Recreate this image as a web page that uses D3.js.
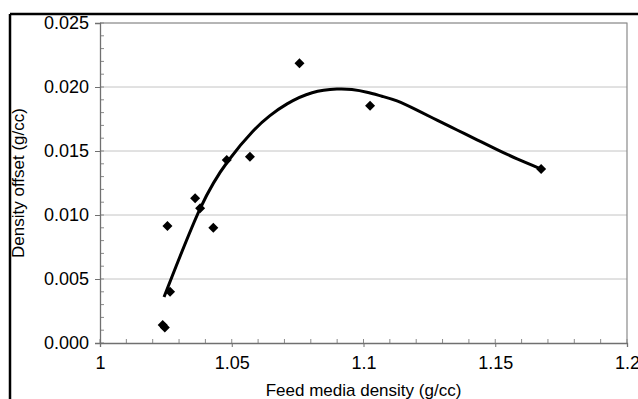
<!DOCTYPE html>
<html>
<head>
<meta charset="utf-8">
<script src="https://cdn.jsdelivr.net/npm/d3@7"></script>
<style>
  html, body { margin: 0; padding: 0; background: #ffffff; }
  svg { display: block; }
</style>
</head>
<body>
<div id="chart"></div>
<script>
// measured points (feed density, density offset)
const feedDensity = [1.0238, 1.0246, 1.0256, 1.0266, 1.0361, 1.0380, 1.0430, 1.0481, 1.0569, 1.0757, 1.1025, 1.1674]
const densityOffset = [0.00140, 0.00122, 0.00914, 0.00400, 0.01130, 0.01052, 0.00900, 0.01430, 0.01456, 0.02185, 0.01854, 0.01359]

// fitted trend line
const fitX = [1.0243, 1.0380, 1.0486, 1.0581, 1.0645, 1.0710, 1.0805, 1.0899, 1.0956, 1.1013, 1.1070, 1.1127, 1.1203, 1.1279, 1.1355, 1.1431, 1.1507, 1.1583, 1.1670]
const fitY = [0.00359, 0.01050, 0.01422, 0.01656, 0.01776, 0.01868, 0.01955, 0.01984, 0.01980, 0.01959, 0.01928, 0.01891, 0.01819, 0.01741, 0.01664, 0.01587, 0.01511, 0.01438, 0.01363]

const xTicks = [1, 1.05, 1.1, 1.15, 1.2]
const yTicks = [0, 0.005, 0.01, 0.015, 0.02, 0.025]

const width = 638
const height = 399
const margin = { top: 23, right: 11, bottom: 56, left: 100 }
const font = '"Liberation Sans", Arial, sans-serif'

const svg = d3.select('#chart')
  .append('svg')
  .attr('width', width)
  .attr('height', height)

const x = d3.scaleLinear()
  .domain([1, 1.2])
  .range([margin.left, width - margin.right])

const y = d3.scaleLinear()
  .domain([0, 0.025])
  .range([height - margin.bottom, margin.top])

// outer frame (only top and left visible)
svg.append('line')
  .attr('x1', 10).attr('x2', width)
  .attr('y1', 14).attr('y2', 14)
  .attr('stroke', '#000').attr('stroke-width', 2.5)
svg.append('line')
  .attr('x1', 10).attr('x2', 10)
  .attr('y1', 14).attr('y2', height)
  .attr('stroke', '#000').attr('stroke-width', 2.5)

// gridlines
svg.append('g')
  .selectAll('line')
  .data(yTicks.slice(1))
  .join('line')
  .attr('x1', x(1)).attr('x2', x(1.2))
  .attr('y1', (d) => y(d)).attr('y2', (d) => y(d))
  .attr('stroke', '#c4c4c4')
  .attr('stroke-width', 1)

// plot border top/right
svg.append('path')
  .attr('d', `M${x(1)},${y(0.025)}H${x(1.2)}V${y(0)}`)
  .attr('fill', 'none')
  .attr('stroke', '#8a8a8a')
  .attr('stroke-width', 1.2)

// minor ticks (inside)
const xMinor = d3.range(1, 1.2001, 0.01)
svg.append('g')
  .selectAll('line')
  .data(xMinor)
  .join('line')
  .attr('x1', (d) => x(d)).attr('x2', (d) => x(d))
  .attr('y1', y(0)).attr('y2', y(0) - 4)
  .attr('stroke', '#8a8a8a')

const yMinor = d3.range(0, 0.02501, 0.001)
svg.append('g')
  .selectAll('line')
  .data(yMinor)
  .join('line')
  .attr('x1', x(1)).attr('x2', x(1) + 4)
  .attr('y1', (d) => y(d)).attr('y2', (d) => y(d))
  .attr('stroke', '#8a8a8a')

// axes
const xAxis = (g) => {
  g.attr('transform', `translate(0, ${y(0)})`)
    .call(d3.axisBottom(x).tickValues(xTicks).tickFormat((d) => `${d}`).tickSizeOuter(0).tickSize(4).tickPadding(9))
    .call((g) => g.select('.domain').attr('stroke', '#707070').attr('stroke-width', 1.3))
    .call((g) => g.selectAll('.tick>line').attr('stroke', '#707070'))
    .call((g) => g.selectAll('.tick>text')
      .style('font-family', font)
      .style('font-size', '18px')
      .attr('fill', '#000'))
}

const yAxis = (g) => {
  g.attr('transform', `translate(${x(1)}, 0)`)
    .call(d3.axisLeft(y).tickValues(yTicks).tickFormat(d3.format('.3f')).tickSizeOuter(0).tickSize(5).tickPadding(6))
    .call((g) => g.select('.domain').attr('stroke', '#707070').attr('stroke-width', 1.3))
    .call((g) => g.selectAll('.tick>line').attr('stroke', '#707070'))
    .call((g) => g.selectAll('.tick>text')
      .style('font-family', font)
      .style('font-size', '18px')
      .attr('fill', '#000'))
}

svg.append('g').call(xAxis)
svg.append('g').call(yAxis)

// axis titles
svg.append('text')
  .attr('x', (x(1) + x(1.2)) / 2)
  .attr('y', 396)
  .attr('text-anchor', 'middle')
  .style('font-family', font)
  .style('font-size', '17px')
  .text('Feed media density (g/cc)')

svg.append('text')
  .attr('transform', `translate(24, ${(y(0) + y(0.025)) / 2}) rotate(-90)`)
  .attr('text-anchor', 'middle')
  .style('font-family', font)
  .style('font-size', '17px')
  .text('Density offset (g/cc)')

// trend line
const fitData = fitX.map((d, i) => ({ x: d, y: fitY[i] }))
const line = d3.line()
  .x((d) => x(d.x))
  .y((d) => y(d.y))
  .curve(d3.curveNatural)

svg.append('path')
  .datum(fitData)
  .attr('fill', 'none')
  .attr('stroke', '#000')
  .attr('stroke-width', 3)
  .attr('stroke-linejoin', 'round')
  .attr('d', line)

// markers
const points = feedDensity.map((d, i) => ({ x: d, y: densityOffset[i] }))
svg.append('g')
  .selectAll('path')
  .data(points)
  .join('path')
  .attr('d', d3.symbol(d3.symbolSquare, 50))
  .attr('transform', (d) => `translate(${x(d.x)}, ${y(d.y)}) rotate(45)`)
  .attr('fill', '#000')
</script>
</body>
</html>
